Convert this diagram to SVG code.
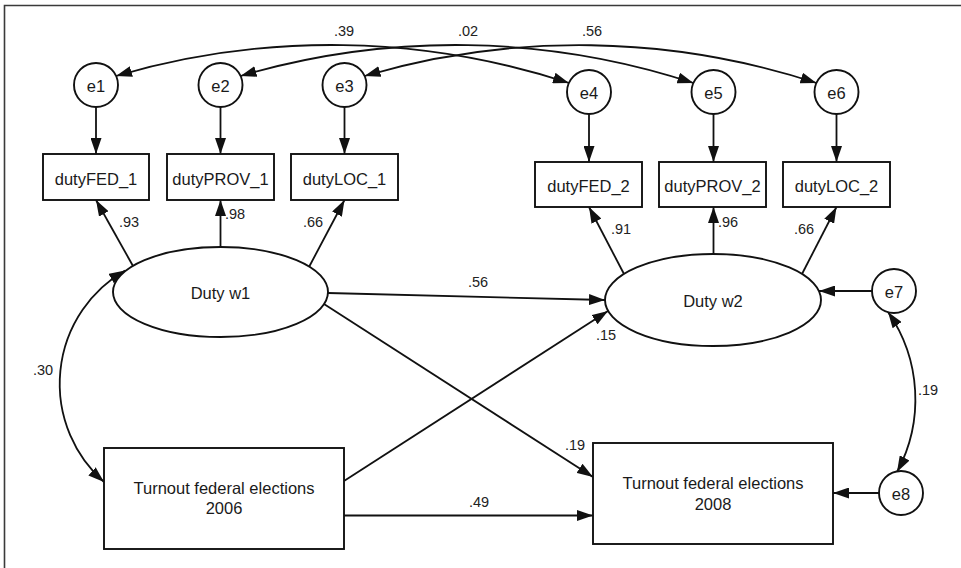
<svg xmlns="http://www.w3.org/2000/svg" width="961" height="568" viewBox="0 0 961 568">
<style>
  .frame { fill: none; stroke: #3a3a3a; stroke-width: 1.6; }
  .node { fill: #ffffff; stroke: #111; stroke-width: 1.9; }
  .ntext { font-family: "Liberation Sans", Arial, sans-serif; font-size: 16.5px; fill: #1a1a1a; text-anchor: middle; }
  .edge { fill: none; stroke: #111; stroke-width: 1.8; }
  .lbl { font-family: "Liberation Sans", Arial, sans-serif; font-size: 14.5px; fill: #222; text-anchor: middle; }
</style>
<defs>
  <marker id="arr" viewBox="0 0 16 11" refX="16" refY="5.5" markerWidth="16" markerHeight="11" markerUnits="userSpaceOnUse" orient="auto-start-reverse">
    <path d="M0,0 L16,5.5 L0,11 z" fill="#111"/>
  </marker>
</defs>
<rect x="0" y="0" width="961" height="568" fill="#ffffff"/>
<polyline class="frame" points="4.5,568 4.5,5.5 961,5.5"/>

<g id="connectors">
  <!-- covariances among errors -->
  <path class="edge" d="M116,76 A763,763 0 0 1 569,83" marker-start="url(#arr)" marker-end="url(#arr)"/>
  <path class="edge" d="M240.5,76 A763,763 0 0 1 693.5,83" marker-start="url(#arr)" marker-end="url(#arr)"/>
  <path class="edge" d="M364.5,76 A763,763 0 0 1 816.5,83" marker-start="url(#arr)" marker-end="url(#arr)"/>
  <!-- error to indicators -->
  <line class="edge" x1="96" y1="107" x2="96" y2="154" marker-end="url(#arr)"/>
  <line class="edge" x1="220.5" y1="107" x2="220.5" y2="154" marker-end="url(#arr)"/>
  <line class="edge" x1="344.5" y1="107" x2="344.5" y2="154" marker-end="url(#arr)"/>
  <line class="edge" x1="589" y1="114" x2="589" y2="162" marker-end="url(#arr)"/>
  <line class="edge" x1="713.5" y1="114" x2="713.5" y2="162" marker-end="url(#arr)"/>
  <line class="edge" x1="836.5" y1="114" x2="836.5" y2="162" marker-end="url(#arr)"/>
  <!-- loadings wave 1 -->
  <line class="edge" x1="133" y1="266" x2="96" y2="200" marker-end="url(#arr)"/>
  <line class="edge" x1="220.5" y1="247" x2="220.5" y2="200" marker-end="url(#arr)"/>
  <line class="edge" x1="309" y1="267" x2="344.5" y2="200" marker-end="url(#arr)"/>
  <!-- loadings wave 2 -->
  <line class="edge" x1="624" y1="274" x2="589" y2="207" marker-end="url(#arr)"/>
  <line class="edge" x1="713.5" y1="254" x2="713.5" y2="207" marker-end="url(#arr)"/>
  <line class="edge" x1="802" y1="274" x2="836.5" y2="207" marker-end="url(#arr)"/>
  <!-- structural paths -->
  <line class="edge" x1="328" y1="293" x2="605" y2="300" marker-end="url(#arr)"/>
  <line class="edge" x1="324" y1="304" x2="593" y2="477" marker-end="url(#arr)"/>
  <line class="edge" x1="344" y1="481" x2="608" y2="311" marker-end="url(#arr)"/>
  <line class="edge" x1="344" y1="515.5" x2="593" y2="515.5" marker-end="url(#arr)"/>
  <line class="edge" x1="872" y1="291" x2="819" y2="291" marker-end="url(#arr)"/>
  <line class="edge" x1="879" y1="493" x2="833" y2="493" marker-end="url(#arr)"/>
  <!-- covariances -->
  <path class="edge" d="M125,270.5 A131,131 0 0 0 104,482" marker-start="url(#arr)" marker-end="url(#arr)"/>
  <path class="edge" d="M888,312 A153,153 0 0 1 897,472" marker-start="url(#arr)" marker-end="url(#arr)"/>

  <text class="lbl" x="344" y="36">.39</text>
  <text class="lbl" x="468" y="36">.02</text>
  <text class="lbl" x="592" y="36">.56</text>
  <text class="lbl" x="129" y="227">.93</text>
  <text class="lbl" x="235" y="219">.98</text>
  <text class="lbl" x="313" y="227">.66</text>
  <text class="lbl" x="621" y="234">.91</text>
  <text class="lbl" x="728" y="227">.96</text>
  <text class="lbl" x="804" y="234">.66</text>
  <text class="lbl" x="478" y="287">.56</text>
  <text class="lbl" x="606" y="340">.15</text>
  <text class="lbl" x="43" y="375">.30</text>
  <text class="lbl" x="928" y="395">.19</text>
  <text class="lbl" x="575" y="450">.19</text>
  <text class="lbl" x="479" y="507">.49</text>
</g>

<g id="e1"><circle class="node" cx="96" cy="85" r="22"/><text class="ntext" x="96" y="91.5">e1</text></g>
<g id="e2"><circle class="node" cx="220.5" cy="85" r="22"/><text class="ntext" x="220.5" y="91.5">e2</text></g>
<g id="e3"><circle class="node" cx="344.5" cy="85" r="22"/><text class="ntext" x="344.5" y="91.5">e3</text></g>
<g id="e4"><circle class="node" cx="589" cy="92" r="22"/><text class="ntext" x="589" y="98.5">e4</text></g>
<g id="e5"><circle class="node" cx="713.5" cy="92" r="22"/><text class="ntext" x="713.5" y="98.5">e5</text></g>
<g id="e6"><circle class="node" cx="836.5" cy="92" r="22"/><text class="ntext" x="836.5" y="98.5">e6</text></g>
<g id="e7"><circle class="node" cx="894" cy="291" r="22"/><text class="ntext" x="894" y="297.5">e7</text></g>
<g id="e8"><circle class="node" cx="901" cy="493" r="22"/><text class="ntext" x="901" y="499.5">e8</text></g>

<g id="dutyFED_1"><rect class="node" x="43" y="154" width="106" height="46"/><text class="ntext" x="96" y="185">dutyFED_1</text></g>
<g id="dutyPROV_1"><rect class="node" x="167" y="154" width="107" height="46"/><text class="ntext" x="220.5" y="185">dutyPROV_1</text></g>
<g id="dutyLOC_1"><rect class="node" x="291" y="154" width="107" height="46"/><text class="ntext" x="344.5" y="185">dutyLOC_1</text></g>
<g id="dutyFED_2"><rect class="node" x="535" y="162" width="107" height="45"/><text class="ntext" x="588.5" y="192">dutyFED_2</text></g>
<g id="dutyPROV_2"><rect class="node" x="659" y="162" width="107" height="45"/><text class="ntext" x="712.5" y="192">dutyPROV_2</text></g>
<g id="dutyLOC_2"><rect class="node" x="783" y="162" width="107" height="45"/><text class="ntext" x="836.5" y="192">dutyLOC_2</text></g>

<g id="duty_w1"><ellipse class="node" cx="220.5" cy="292" rx="107.5" ry="45"/><text class="ntext" x="220.5" y="299">Duty w1</text></g>
<g id="duty_w2"><ellipse class="node" cx="713" cy="300" rx="108" ry="46"/><text class="ntext" x="713" y="307">Duty w2</text></g>

<g id="turnout_2006"><rect class="node" x="104" y="448" width="240" height="101"/><text class="ntext" x="224" y="494">Turnout federal elections</text><text class="ntext" x="224" y="514">2006</text></g>
<g id="turnout_2008"><rect class="node" x="593" y="443" width="240" height="101"/><text class="ntext" x="713" y="489">Turnout federal elections</text><text class="ntext" x="713" y="510">2008</text></g>
</svg>
